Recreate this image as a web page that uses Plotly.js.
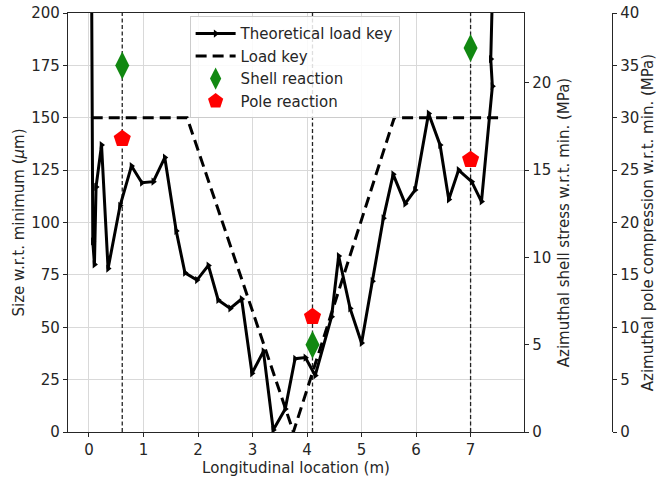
<!DOCTYPE html>
<html>
<head>
<meta charset="utf-8">
<script src="https://cdn.plot.ly/plotly-3.0.1.min.js"></script>
<style>
  html, body { margin: 0; padding: 0; background: #fff; }
  #chart { width: 659px; height: 479px; }
</style>
</head>
<body>
<div id="chart"></div>
<script>
// Measured size profile along the pipe (μm above minimum)
const theoX = [0.04, 0.07, 0.10, 0.13, 0.23, 0.35, 0.57, 0.78, 0.97, 1.18, 1.39, 1.60, 1.76, 1.98, 2.19, 2.37, 2.59, 2.80, 2.99, 3.20, 3.38, 3.60, 3.78, 3.97, 4.15, 4.45, 4.58, 4.79, 5.00, 5.20, 5.40, 5.58, 5.80, 5.98, 6.23, 6.44, 6.60, 6.78, 7.02, 7.20, 7.40, 7.37, 7.45];
const theoY = [260, 91, 80, 117, 137, 78, 108, 127, 119, 119.5, 131, 96, 76, 72.5, 79.5, 63, 59, 63.5, 28, 38.5, 1, 11, 35, 35.5, 27, 55, 84, 59, 42.5, 72, 102, 123, 109, 115.5, 152, 137, 111, 125, 119.5, 110, 165, 178, 260];

// Nominal load key envelope
const loadX = [0.05, 1.80, 3.75, 5.60, 7.55];
const loadY = [150, 150, 0, 150, 150];

// Support locations
const supportX = [0.61, 4.10, 7.00];

// Reactions at the supports (MPa)
const shellReaction = [21, 5, 22];
const poleReaction = [28, 11, 26];

const FONT = 'DejaVu Sans, sans-serif';
const INK = '#262626';
const GRID = '#d9d9d9';
const FS = 15;

const traces = [];

// Thin dashed verticals at each support
supportX.forEach(function (sx) {
  traces.push({
    x: [sx, sx], y: [0, 200], type: 'scatter', mode: 'lines',
    line: { color: '#222', width: 1.3, dash: '4px,2.5px' },
    showlegend: false, hoverinfo: 'skip', xaxis: 'x', yaxis: 'y'
  });
});

traces.push({
  name: 'Theoretical load key',
  x: theoX, y: theoY, type: 'scatter', mode: 'lines+markers',
  line: { color: '#000', width: 3 },
  marker: { symbol: 'triangle-right', size: 7, color: '#000' },
  xaxis: 'x', yaxis: 'y'
});

traces.push({
  name: 'Load key',
  x: loadX, y: loadY, type: 'scatter', mode: 'lines',
  line: { color: '#000', width: 3, dash: '11px,6px' },
  xaxis: 'x', yaxis: 'y'
});

traces.push({
  name: 'Shell reaction',
  x: supportX, y: shellReaction, type: 'scatter', mode: 'markers',
  marker: { symbol: 'diamond-tall', size: 20, color: '#118811' },
  xaxis: 'x', yaxis: 'y2', cliponaxis: false
});

traces.push({
  name: 'Pole reaction',
  x: supportX, y: poleReaction, type: 'scatter', mode: 'markers',
  marker: { symbol: 'pentagon', size: 18, color: '#ff0000' },
  xaxis: 'x', yaxis: 'y3', cliponaxis: false
});

const tickCommon = {
  ticks: 'outside', ticklen: 4, tickwidth: 1, tickcolor: INK,
  tickfont: { family: FONT, size: FS, color: INK },
  showline: true, linecolor: INK, linewidth: 1.2, zeroline: false
};

const layout = {
  width: 659, height: 479,
  margin: { l: 68, r: 20, t: 13, b: 47 },
  paper_bgcolor: '#fff', plot_bgcolor: '#fff',
  font: { family: FONT, size: FS, color: INK },
  showlegend: true,
  legend: {
    x: 0.213, y: 0.992, xanchor: 'left', yanchor: 'top',
    bgcolor: 'rgba(255,255,255,0.85)', bordercolor: '#cccccc', borderwidth: 1,
    font: { family: FONT, size: FS, color: INK },
    tracegroupgap: 0, itemwidth: 40
  },
  xaxis: Object.assign({}, tickCommon, {
    domain: [0, 0.7986],
    range: [-0.385, 7.98],
    tickmode: 'linear', tick0: 0, dtick: 1,
    showgrid: true, gridcolor: GRID, gridwidth: 1,
    mirror: true,
    title: { text: 'Longitudinal location (m)', font: { family: FONT, size: FS, color: INK }, standoff: 3 }
  }),
  yaxis: Object.assign({}, tickCommon, {
    range: [0, 200],
    tickmode: 'linear', tick0: 0, dtick: 25,
    showgrid: true, gridcolor: GRID, gridwidth: 1,
    title: { text: 'Size w.r.t. minimum (<i>μ</i>m)', font: { family: FONT, size: FS, color: INK }, standoff: 3 }
  }),
  yaxis2: Object.assign({}, tickCommon, {
    overlaying: 'y', side: 'right', anchor: 'x',
    range: [0, 24],
    tickmode: 'linear', tick0: 0, dtick: 5,
    showgrid: false,
    title: { text: 'Azimuthal shell stress w.r.t. min. (MPa)', font: { family: FONT, size: FS, color: INK }, standoff: 8 }
  }),
  yaxis3: Object.assign({}, tickCommon, {
    overlaying: 'y', side: 'right', anchor: 'free', position: 0.9527,
    range: [0, 40],
    tickmode: 'linear', tick0: 0, dtick: 5,
    showgrid: false,
    title: { text: 'Azimuthal pole compression w.r.t. min. (MPa)', font: { family: FONT, size: FS, color: INK }, standoff: 1 }
  })
};

Plotly.newPlot('chart', traces, layout, { displayModeBar: false, staticPlot: true });
</script>
</body>
</html>
